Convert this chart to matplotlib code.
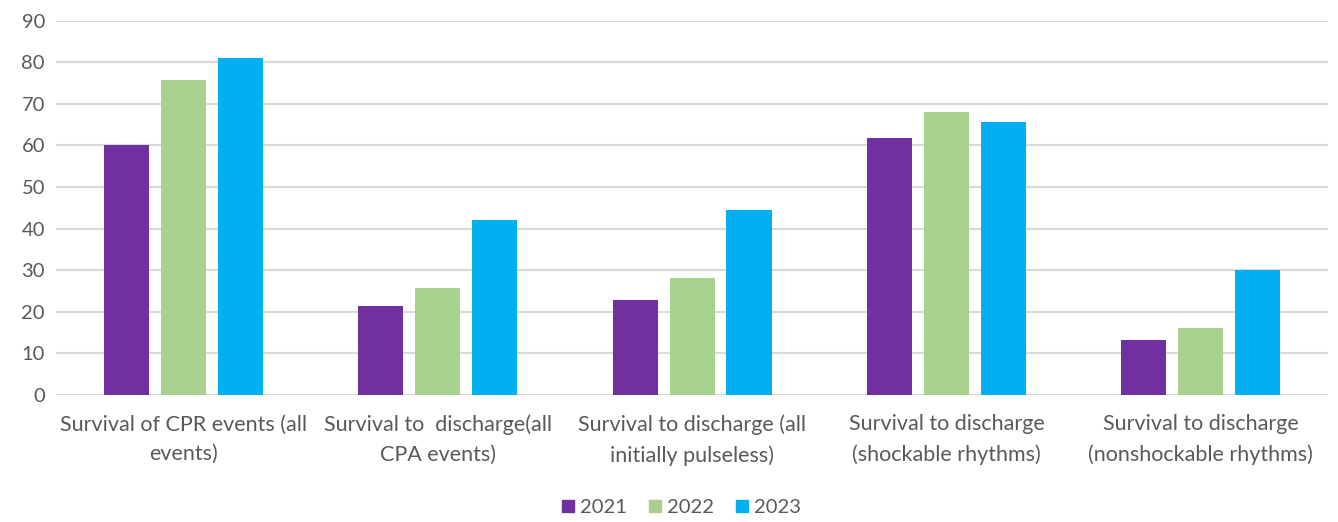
import numpy as np
import matplotlib.pyplot as plt

categories = [
    "Survival of CPR events (all\nevents)",
    "Survival to  discharge(all\nCPA events)",
    "Survival to discharge (all\ninitially pulseless)",
    "Survival to discharge\n(shockable rhythms)",
    "Survival to discharge\n(nonshockable rhythms)",
]
years = ["2021", "2022", "2023"]
values_2021 = [60, 21.5, 22.8, 61.7, 13.2]
values_2022 = [75.7, 25.8, 28.2, 68.0, 16.0]
values_2023 = [81, 42.1, 44.5, 65.6, 30.0]
colors = ["#7030a0", "#a9d18e", "#00b0f0"]

plt.rcParams['font.family'] = ['Lato', 'DejaVu Sans']
text_color = "#595959"

fig = plt.figure(figsize=(13.38, 5.22), dpi=100)
ax = fig.add_axes([0.0419, 0.2433, 0.9506, 0.717])

x = np.arange(len(categories))
width = 0.177
step = 0.224
for i, (vals, year) in enumerate(zip([values_2021, values_2022, values_2023], years)):
    ax.bar(x + (i - 1) * step, vals, width, color=colors[i], label=year, zorder=3)

ax.set_xlim(-0.5, len(categories) - 0.5)
ax.set_ylim(0, 90)
ax.set_yticks(range(0, 91, 10))
ax.grid(axis='y', color="#d9d9d9", linewidth=1.5, zorder=0)
for s in ax.spines.values():
    s.set_visible(False)
ax.tick_params(axis='both', length=0, colors=text_color, labelsize=14.5)
ax.tick_params(axis='y', pad=8)
ax.tick_params(axis='x', pad=14, labelsize=15.5)
ax.set_xticks(x)
ax.set_xticklabels(categories)
for lbl in ax.get_xticklabels():
    lbl.set_linespacing(1.6)

handles = [plt.Line2D([], [], marker='s', linestyle='none', markersize=9,
                      color=c) for c in colors]
fig.legend(handles, years, loc='center', bbox_to_anchor=(0.508, 0.027), ncol=3,
           frameon=False, fontsize=14.5, labelcolor=text_color,
           handletextpad=0.1, columnspacing=0.9, handlelength=1.0)

fig.savefig("out.png", dpi=100)
